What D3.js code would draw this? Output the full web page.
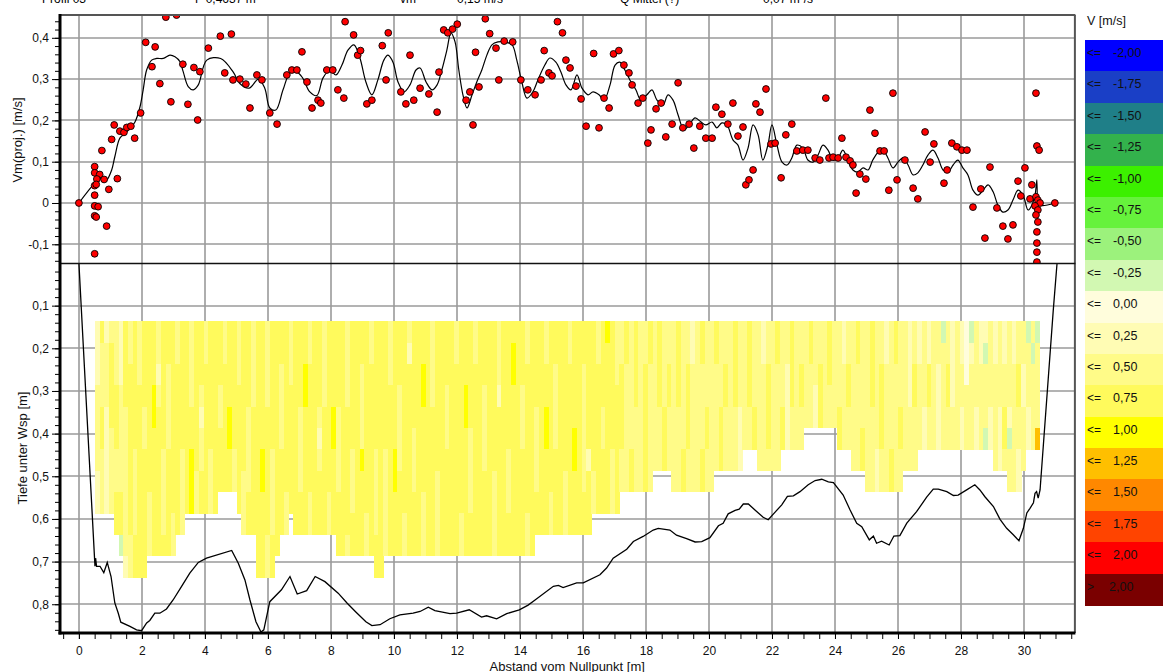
<!DOCTYPE html>
<html>
<head>
<meta charset="utf-8">
<script src="https://cdn.jsdelivr.net/npm/d3@7"></script>
<style>
  html, body { margin: 0; padding: 0; background: #fff; }
  svg { display: block; font-family: "Liberation Sans", Arial, sans-serif; }
</style>
</head>
<body>
<svg id="chart" width="1163" height="672"></svg>
<script>
// ---------- header values ----------
const headerTexts = [
  { x: 42,  text: "Profil 03" },
  { x: 195, text: "F   0,4637 m²" },
  { x: 400, text: "vm" },
  { x: 457, text: "0,15 m/s" },
  { x: 620, text: "Q Mittel (?)" },
  { x: 763, text: "0,07 m³/s" }
];

// ---------- axis ticks ----------
const velocityTicks = [-0.1, 0, 0.1, 0.2, 0.3, 0.4];
const depthTicks = [0.1, 0.2, 0.3, 0.4, 0.5, 0.6, 0.7, 0.8];
const distanceTicks = [0, 2, 4, 6, 8, 10, 12, 14, 16, 18, 20, 22, 24, 26, 28, 30];

// ---------- mean projected velocity per ensemble (points) ----------
const pointDist = [0.00,0.50,0.50,0.66,0.57,0.80,0.50,0.55,0.73,1.12,1.04,1.22,0.95,0.50,0.50,0.61,0.50,0.55,0.88,0.50,
  1.30,1.43,1.52,1.65,1.77,1.96,2.12,2.32,2.42,2.57,2.76,3.10,2.92,3.30,3.46,3.65,3.77,3.84,4.11,4.49,
  4.84,4.63,4.89,5.11,5.30,5.43,5.65,5.81,6.06,6.29,6.60,6.76,6.92,7.08,7.24,7.40,7.59,7.68,7.87,8.06,
  8.22,8.45,8.72,8.85,8.94,8.41,9.14,9.30,9.63,9.82,9.75,10.22,10.38,10.51,10.63,10.83,11.11,11.37,11.43,11.58,
  11.71,11.86,12.01,12.29,12.41,12.51,12.59,12.70,12.90,13.04,13.24,13.50,13.77,13.33,14.03,14.25,14.48,14.67,14.77,14.92,
  15.02,15.19,15.35,15.46,15.59,15.78,15.94,16.10,16.34,16.51,16.67,16.83,16.97,17.14,17.30,17.46,17.56,17.75,17.90,18.06,
  18.16,18.32,18.48,18.63,18.83,19.02,19.17,19.37,19.52,19.71,19.90,20.10,20.22,20.41,20.60,20.76,20.92,21.08,21.17,21.27,
  21.40,21.49,21.62,21.81,21.97,22.10,22.29,22.44,22.63,22.79,22.98,23.14,23.37,23.52,23.71,23.81,23.94,24.10,24.22,24.35,
  24.48,24.57,24.67,24.79,24.98,25.11,25.27,25.43,25.56,25.71,25.84,25.97,26.22,26.48,26.63,26.86,27.02,27.14,27.46,27.56,
  27.71,27.87,28.03,28.19,28.38,28.63,28.76,28.92,29.14,29.33,29.49,29.65,29.81,29.90,30.03,30.19,30.25,30.38,30.41,30.48,
  30.38,30.44,30.51,30.35,30.44,30.38,30.44,30.41,30.41,30.41,30.41,30.98];
const pointVel = [0.000,0.088,0.073,0.069,0.058,0.057,0.042,0.045,0.127,0.189,0.154,0.059,0.033,0.019,-0.007,-0.009,-0.031,-0.034,-0.056,-0.123,
  0.174,0.171,0.183,0.186,0.157,0.218,0.389,0.330,0.378,0.289,0.450,0.455,0.245,0.336,0.239,0.328,0.201,0.318,0.375,0.404,
  0.409,0.315,0.298,0.300,0.288,0.230,0.310,0.298,0.218,0.191,0.310,0.322,0.322,0.366,0.293,0.230,0.249,0.242,0.322,0.322,
  0.274,0.439,0.407,0.358,0.369,0.254,0.240,0.249,0.381,0.412,0.298,0.269,0.240,0.358,0.249,0.278,0.264,0.220,0.317,0.419,
  0.412,0.421,0.433,0.249,0.269,0.189,0.365,0.281,0.446,0.410,0.375,0.392,0.390,0.298,0.298,0.274,0.262,0.298,0.369,0.315,
  0.308,0.439,0.412,0.346,0.327,0.283,0.252,0.186,0.362,0.182,0.254,0.230,0.361,0.369,0.334,0.315,0.286,0.242,0.254,0.145,
  0.177,0.228,0.242,0.160,0.191,0.291,0.182,0.191,0.133,0.186,0.157,0.157,0.232,0.215,0.191,0.242,0.162,0.184,0.044,0.056,
  0.080,0.240,0.220,0.276,0.143,0.145,0.061,0.165,0.191,0.126,0.128,0.128,0.109,0.104,0.254,0.109,0.111,0.109,0.157,0.111,
  0.102,0.092,0.024,0.070,0.058,0.225,0.169,0.126,0.126,0.031,0.266,0.056,0.104,0.036,0.010,0.172,0.099,0.143,0.048,0.080,
  0.145,0.136,0.128,0.128,-0.010,0.034,-0.085,0.087,-0.012,-0.056,-0.087,-0.053,0.053,0.017,0.085,0.010,0.044,0.266,0.138,0.128,
  0.015,0.007,0.000,-0.007,-0.017,-0.029,-0.046,-0.070,-0.097,-0.119,-0.143,0.000];

// ---------- smoothed velocity profile (line) ----------
const lineDist = [0.00,0.50,0.67,0.77,0.88,1.04,1.14,1.30,1.46,1.62,1.78,1.94,2.04,2.15,2.31,2.47,2.68,2.89,3.05,3.21,
  3.31,3.47,3.63,3.79,4.06,4.50,4.90,5.10,5.40,5.70,5.90,6.06,6.25,6.48,6.70,6.92,7.10,7.33,7.55,7.75,
  7.97,8.16,8.35,8.54,8.73,8.92,9.11,9.30,9.49,9.68,9.81,9.97,10.13,10.32,10.51,10.70,10.83,11.02,11.21,11.37,
  11.52,11.68,11.81,11.94,12.06,12.19,12.32,12.48,12.63,12.79,12.95,13.11,13.30,13.52,13.75,13.90,14.06,14.22,14.41,14.57,
  14.79,14.95,15.14,15.30,15.46,15.62,15.81,15.97,16.16,16.32,16.51,16.67,16.86,17.02,17.17,17.33,17.49,17.68,17.84,18.03,
  18.19,18.35,18.54,18.70,18.86,19.02,19.21,19.37,19.56,19.75,19.90,20.10,20.25,20.41,20.57,20.76,20.92,21.08,21.24,21.40,
  21.56,21.71,21.87,22.00,22.16,22.32,22.48,22.63,22.79,22.98,23.14,23.30,23.46,23.62,23.78,23.94,24.10,24.25,24.41,24.57,
  24.73,24.89,25.05,25.20,25.37,25.52,25.68,25.84,26.00,26.16,26.32,26.48,26.63,26.79,26.95,27.11,27.27,27.43,27.59,27.75,
  27.90,28.06,28.22,28.38,28.54,28.70,28.86,29.02,29.17,29.33,29.49,29.65,29.81,29.97,30.13,30.25,30.35,30.41,30.42,30.44,
  30.50,30.98];
const lineVel = [0.000,0.048,0.060,0.051,0.055,0.080,0.112,0.157,0.168,0.180,0.196,0.233,0.274,0.322,0.346,0.350,0.350,0.358,0.354,0.342,
  0.318,0.282,0.274,0.286,0.346,0.350,0.317,0.290,0.278,0.300,0.278,0.230,0.225,0.274,0.315,0.317,0.303,0.269,0.260,0.303,
  0.322,0.310,0.334,0.370,0.383,0.351,0.293,0.262,0.298,0.346,0.358,0.341,0.293,0.269,0.286,0.322,0.327,0.293,0.274,0.286,
  0.322,0.370,0.412,0.390,0.322,0.262,0.230,0.262,0.293,0.322,0.358,0.383,0.390,0.390,0.383,0.346,0.293,0.254,0.269,0.298,
  0.334,0.351,0.341,0.317,0.286,0.274,0.310,0.278,0.262,0.269,0.262,0.249,0.286,0.334,0.341,0.322,0.298,0.274,0.249,0.262,
  0.274,0.249,0.237,0.262,0.249,0.213,0.177,0.189,0.206,0.196,0.189,0.196,0.182,0.194,0.189,0.153,0.140,0.104,0.133,0.189,
  0.165,0.104,0.140,0.189,0.140,0.099,0.092,0.109,0.140,0.133,0.104,0.099,0.116,0.140,0.128,0.104,0.109,0.128,0.104,0.080,
  0.075,0.085,0.080,0.104,0.123,0.128,0.109,0.085,0.099,0.109,0.092,0.068,0.073,0.092,0.116,0.128,0.109,0.080,0.075,0.092,
  0.104,0.085,0.068,0.031,0.019,0.031,0.044,0.027,-0.005,-0.022,-0.017,0.007,0.031,0.019,-0.017,-0.005,0.019,0.056,-0.040,0.010,
  -0.005,0.000];

// ---------- bed profile (depth below water surface) ----------
const bedDist = [0.00,0.51,0.53,0.56,0.67,0.79,0.90,1.02,1.14,1.25,1.33,1.62,1.83,1.99,2.15,2.25,2.41,2.57,2.78,2.99,
  3.26,3.52,3.79,4.05,4.85,5.06,5.27,5.43,5.62,5.78,5.87,6.06,6.43,6.70,6.93,7.23,7.50,7.81,8.23,8.51,
  8.79,9.11,9.30,9.56,9.87,10.19,10.61,10.83,11.09,11.30,11.78,11.99,12.39,12.78,12.94,13.26,13.58,13.98,14.26,14.48,
  15.06,15.22,15.37,15.80,16.01,16.54,16.75,16.96,17.39,17.60,17.91,18.23,18.39,18.76,18.97,19.29,19.56,19.77,20.03,20.30,
  20.45,20.61,20.83,20.96,21.09,21.25,21.46,21.72,21.88,22.10,22.31,22.49,22.68,22.89,23.15,23.37,23.58,23.79,23.95,24.26,
  24.48,24.69,24.85,25.09,25.22,25.32,25.48,25.72,25.87,26.06,26.28,26.59,26.91,27.12,27.28,27.55,27.76,27.91,28.18,28.44,
  28.60,28.76,29.03,29.24,29.45,29.66,29.84,29.98,30.09,30.19,30.30,30.35,30.40,30.45,30.51,30.93,31.05];
const bedDepth = [0.000,0.711,0.692,0.711,0.711,0.726,0.702,0.735,0.797,0.821,0.842,0.852,0.860,0.862,0.844,0.838,0.821,0.821,0.811,0.790,
  0.758,0.727,0.702,0.692,0.674,0.704,0.743,0.790,0.841,0.865,0.860,0.794,0.766,0.735,0.776,0.768,0.735,0.747,0.774,0.797,
  0.818,0.841,0.850,0.848,0.834,0.825,0.821,0.817,0.807,0.815,0.822,0.821,0.813,0.830,0.827,0.834,0.822,0.813,0.802,0.790,
  0.758,0.756,0.761,0.750,0.750,0.731,0.715,0.692,0.671,0.653,0.641,0.626,0.622,0.626,0.638,0.646,0.654,0.653,0.644,0.616,
  0.610,0.588,0.580,0.577,0.565,0.565,0.579,0.596,0.602,0.584,0.567,0.547,0.546,0.536,0.520,0.510,0.507,0.513,0.515,0.544,
  0.579,0.610,0.618,0.649,0.640,0.657,0.652,0.661,0.640,0.639,0.610,0.583,0.549,0.530,0.530,0.536,0.545,0.544,0.532,0.520,
  0.532,0.548,0.571,0.601,0.622,0.637,0.651,0.622,0.586,0.575,0.562,0.540,0.536,0.551,0.532,0.110,0.000];

// ---------- velocity cells: one string per ensemble column, top row first ----------
// '0'..'9' = 0.0..0.9 m/s, 'a'..'e' = -0.1..-0.5 m/s, 'A'..'E' = 1.1..1.5 m/s
const cellStart = 0.51;   // distance of first column [m]
const cellWidth = 0.15;   // column width [m]
const cellTop = 0.1366;   // depth of first bin [m]
const cellHeight = 0.05;  // bin height [m]
const cellColumns = [
  "222444422","644466444","144422221","466664444","4446664466","2224444466c",
  "666644444441","446666666644","666666444466","444666666666","666644666666",
  "66666666444","66688666666","44246666666","66666644446","66444466666","66666666644",
  "4466666666","6666664444",
  "666666666","444466888","666666644","666424466","446666666","666666444","666666666",
  "66644666","44666666","66668866","66666644",
  "444666666",
  "6666666444","6666444466","4444666666",
  "666666666666","666666886666","444466666644","666666444466",
  "66666666666",
  "6644446666","6666666644",
  "444666666",
  "6666666666","6666444466","6688666666","4466666644","6666666666","6666424666","4444666666","6666666644","6666886666",
  "66664444666","66666666666","44446666664","66666644466","66666666666","66444486666","66666666644","44666666666",
  "666666444466","666666666666",
  "66666644444","44466666666","66666688666","66644446666","66666666644","42666666666","66666444666","66666666666",
  "66886666444","66666666666","44446666666","66666664444","66666666666","66644466666","66666666666","44666666666",
  "66666666644","66688666666","66666444466","44666666666","66666666666","66644446666","66666666666","66666664444",
  "44426666666","66666666666","66666644466","68866666666","66666666666","66644466666","44666666644","66666666666",
  "6666444466","6666666666","4466886666","6666666644","6644446666","6666666666","6666666444","4466666666",
  "6666688666","6666666666","6644444466","6666662666",
  "666666644","446666666","666644666","866666666","666666444","444666666",
  "44666644","66444444","44444466","66664444","44444444","44666666","66444444",
  "4444444","6666444","4444666","4466444",
  "44444444","66664444","44444466","44666644","22444444","44444444","66444466","44446644","44444444",
  "6644444","4444666","4466444","4444444","6666444","4444222",
  "444444","666644","444466",
  "4444444","2244444","4466664","4444444","6644444",
  "444466","442222","666644","444444","446644",
  "44444","66444","44422","44666","44444","66644","44444",
  "444466","224444","446644",
  "4444444","6644444","4444466",
  "44444444","66664444","44444422","44666644","22444444","44444466","66444444","44446644",
  "4444444","2222444","4466444",
  "224444","444422","226644","444444","442222","c44444","446644","222244",
  "444444","224422","000444","c24444","444422","224444","2c444c","444422",
  "2244444","4444222","2244664",
  "44442c44","22444444","44664422",
  "4422444",
  "c44422","4c4444","c4444B"
];

// ---------- colour classes ----------
const classLimits = [-2, -1.75, -1.5, -1.25, -1, -0.75, -0.5, -0.25, 0, 0.25, 0.5, 0.75, 1, 1.25, 1.5, 1.75, 2, 2];
const classOps = ["<=","<=","<=","<=","<=","<=","<=","<=","<=","<=","<=","<=","<=","<=","<=","<=","<=",">"];
const classColors = ["#0000ff","#1a3fc6","#1f7f88","#33b24c","#3cf000","#66f23c","#9cf27c","#d2f8b2",
  "#fffddc","#fffcb4","#fffb88","#fffa5c","#ffff00","#ffbf00","#ff8800","#ff4400","#ff0000","#7a0000"];

// ---------- helpers ----------
const de = d3.formatLocale({ decimal: ",", thousands: ".", grouping: [3], currency: ["", " €"], minus: "-" });
const f1 = de.format(".1f");
const f2 = de.format(".2f");
const velLabel = v => (v === 0 ? "0" : f1(v));

function decode(ch) {
  const c = ch.charCodeAt(0);
  if (c >= 48 && c <= 57) return (c - 48) / 10;
  if (c >= 97 && c <= 101) return -(c - 96) / 10;
  if (c >= 65 && c <= 69) return 1 + (c - 64) / 10;
  return null;
}
function classColor(v) {
  const i = d3.bisectLeft(classLimits.slice(0, 17), v);
  return classColors[i];
}

// ---------- layout ----------
const svg = d3.select("#chart");
const plotL = 60, plotR = 1074.4, plotT = 15, plotM = 263, plotB = 633;

const x = d3.scaleLinear().domain([-0.6, 31.6]).range([plotL, plotR]);
const yV = d3.scaleLinear().domain([-0.1453, 0.4552]).range([plotM, plotT]);
const yD = d3.scaleLinear().domain([0, 0.8674]).range([plotM, plotB]);

const gridColor = "#9a9a9a";

// header line (top of page, mostly outside the view)
svg.append("g").selectAll("text").data(headerTexts).join("text")
  .attr("x", d => d.x).attr("y", 3)
  .attr("font-size", 12).attr("fill", "#000")
  .text(d => d.text);

// clip regions for the two panels
svg.append("clipPath").attr("id", "clipTop")
  .append("rect").attr("x", plotL).attr("y", plotT).attr("width", plotR - plotL).attr("height", plotM - plotT);
svg.append("clipPath").attr("id", "clipBot")
  .append("rect").attr("x", plotL).attr("y", plotM).attr("width", plotR - plotL).attr("height", plotB - plotM);

// ---------- grid ----------
const grid = svg.append("g").attr("stroke", gridColor).attr("stroke-width", 1.6);
grid.selectAll(".vx").data(distanceTicks).join("line")
  .attr("x1", d => Math.round(x(d))).attr("x2", d => Math.round(x(d)))
  .attr("y1", plotT).attr("y2", plotB);
grid.selectAll(".hv").data(velocityTicks).join("line")
  .attr("x1", plotL).attr("x2", plotR)
  .attr("y1", d => Math.round(yV(d))).attr("y2", d => Math.round(yV(d)));
grid.selectAll(".hd").data(depthTicks).join("line")
  .attr("x1", plotL).attr("x2", plotR)
  .attr("y1", d => Math.round(yD(d))).attr("y2", d => Math.round(yD(d)));

// ---------- velocity cells ----------
const cells = [];
cellColumns.forEach((col, i) => {
  for (let r = 0; r < col.length; r++) {
    const v = decode(col[r]);
    if (v === null) continue;
    cells.push({ d0: cellStart + i * cellWidth, d1: cellStart + (i + 1) * cellWidth,
                 z0: cellTop + r * cellHeight, z1: cellTop + (r + 1) * cellHeight, v });
  }
});
svg.append("g").attr("clip-path", "url(#clipBot)")
  .selectAll("rect").data(cells).join("rect")
  .attr("x", d => x(d.d0)).attr("width", d => x(d.d1) - x(d.d0) + 0.4)
  .attr("y", d => yD(d.z0)).attr("height", d => yD(d.z1) - yD(d.z0) + 0.4)
  .attr("fill", d => classColor(d.v))
  .attr("shape-rendering", "crispEdges");

// ---------- bed profile ----------
const bed = bedDist.map((d, i) => [d, bedDepth[i]]);
svg.append("path").datum(bed)
  .attr("clip-path", "url(#clipBot)")
  .attr("fill", "none").attr("stroke", "#000").attr("stroke-width", 1.3)
  .attr("d", d3.line().x(d => x(d[0])).y(d => yD(d[1])));

// ---------- upper panel: line and points ----------
const prof = lineDist.map((d, i) => [d, lineVel[i]]);
const upper = svg.append("g").attr("clip-path", "url(#clipTop)");
upper.append("path").datum(prof)
  .attr("fill", "none").attr("stroke", "#000").attr("stroke-width", 1.2)
  .attr("d", d3.line().curve(d3.curveCatmullRom.alpha(0.5)).x(d => x(d[0])).y(d => yV(d[1])));
upper.selectAll("circle").data(pointDist.map((d, i) => [d, pointVel[i]])).join("circle")
  .attr("cx", d => x(d[0])).attr("cy", d => yV(d[1])).attr("r", 3.4)
  .attr("fill", "#ff0000").attr("stroke", "#000").attr("stroke-width", 0.9);

// ---------- frame ----------
svg.append("line").attr("x1", plotL).attr("x2", plotR + 1).attr("y1", plotT).attr("y2", plotT)
  .attr("stroke", "#555").attr("stroke-width", 2);
svg.append("line").attr("x1", plotR + 0.5).attr("x2", plotR + 0.5).attr("y1", plotT).attr("y2", plotB)
  .attr("stroke", "#555").attr("stroke-width", 2);
svg.append("line").attr("x1", plotL).attr("x2", plotR + 1).attr("y1", plotM + 0.5).attr("y2", plotM + 0.5)
  .attr("stroke", "#111").attr("stroke-width", 1.4);

// ---------- axes ----------
function styleAxis(g) {
  g.select(".domain").remove();
  g.selectAll(".tick line").attr("stroke", "#000").attr("stroke-width", 1);
  g.selectAll(".tick text").attr("font-size", 12).attr("fill", "#111")
    .attr("font-family", "'Liberation Sans', Arial, sans-serif");
}
// upper y
svg.append("g").attr("transform", `translate(${plotL - 1},0)`)
  .call(d3.axisLeft(yV).tickValues(d3.range(-0.14, 0.45, 0.02)).tickSize(4).tickFormat(""))
  .call(styleAxis);
svg.append("g").attr("transform", `translate(${plotL - 1},0)`)
  .call(d3.axisLeft(yV).tickValues(velocityTicks).tickSize(7).tickPadding(3).tickFormat(velLabel))
  .call(styleAxis);
// lower y
svg.append("g").attr("transform", `translate(${plotL - 1},0)`)
  .call(d3.axisLeft(yD).tickValues(d3.range(0.02, 0.87, 0.02)).tickSize(4).tickFormat(""))
  .call(styleAxis);
svg.append("g").attr("transform", `translate(${plotL - 1},0)`)
  .call(d3.axisLeft(yD).tickValues(depthTicks).tickSize(7).tickPadding(3).tickFormat(f1))
  .call(styleAxis);
// x
svg.append("g").attr("transform", `translate(0,${plotB + 1})`)
  .call(d3.axisBottom(x).tickValues(d3.range(-0.5, 31.6, 0.5)).tickSize(5).tickFormat(""))
  .call(styleAxis);
svg.append("g").attr("transform", `translate(0,${plotB + 1})`)
  .call(d3.axisBottom(x).tickValues(distanceTicks).tickSize(5).tickPadding(7).tickFormat(d => d))
  .call(styleAxis);

// thick axis lines
svg.append("line").attr("x1", plotL).attr("x2", plotL).attr("y1", plotT - 1).attr("y2", plotB + 1.5)
  .attr("stroke", "#000").attr("stroke-width", 3);
svg.append("line").attr("x1", plotL - 1.5).attr("x2", plotR + 1).attr("y1", plotB).attr("y2", plotB)
  .attr("stroke", "#000").attr("stroke-width", 3);

// axis titles
svg.append("text").attr("transform", "translate(22,140) rotate(-90)")
  .attr("text-anchor", "middle").attr("font-size", 13).attr("fill", "#111")
  .text("Vm(proj.) [m/s]");
svg.append("text").attr("transform", "translate(27,448) rotate(-90)")
  .attr("text-anchor", "middle").attr("font-size", 13).attr("fill", "#111")
  .text("Tiefe unter Wsp [m]");
svg.append("text").attr("x", (plotL + plotR) / 2).attr("y", 671)
  .attr("text-anchor", "middle").attr("font-size", 13).attr("fill", "#111")
  .text("Abstand vom Nullpunkt [m]");

// ---------- legend ----------
const legX = 1085, legY = 40, legH = 31.39;
svg.append("text").attr("x", 1087).attr("y", 25).attr("font-size", 12.5).attr("fill", "#111").text("V [m/s]");
const leg = svg.append("g").selectAll("g").data(classLimits).join("g")
  .attr("transform", (d, i) => `translate(${legX},${legY + i * legH})`);
leg.append("rect").attr("width", 1163 - legX).attr("height", legH + 0.5)
  .attr("fill", (d, i) => classColors[i]).attr("shape-rendering", "crispEdges");
leg.append("text").attr("x", 2).attr("y", 17).attr("font-size", 12).attr("fill", "#111")
  .text((d, i) => classOps[i]);
leg.append("text").attr("x", (d, i) => classOps[i] === ">" ? 24 : 28).attr("y", 17)
  .attr("font-size", 12.5).attr("fill", "#111")
  .text(d => f2(d));
</script>
</body>
</html>
